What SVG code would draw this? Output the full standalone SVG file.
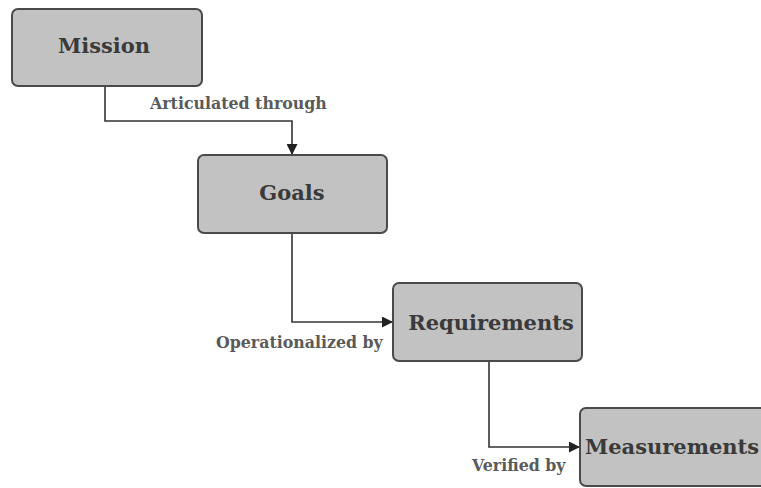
<svg xmlns="http://www.w3.org/2000/svg" width="761" height="488" viewBox="0 0 761 488">
  <defs>
    <marker id="arrow" viewBox="0 0 10 10" refX="10" refY="5" markerWidth="11" markerHeight="11" markerUnits="userSpaceOnUse" orient="auto">
      <path d="M0,0 L10,5 L0,10 Z" fill="#222"/>
    </marker>
    <style>
      .box { fill: #c2c2c2; stroke: #4a4a4a; stroke-width: 2; }
      .title { font-family: "DejaVu Serif", "Liberation Serif", serif; font-size: 21px; font-weight: bold; fill: #3a3a3a; text-anchor: middle; }
      .label { font-family: "DejaVu Serif", "Liberation Serif", serif; font-size: 15.8px; font-weight: bold; fill: #5a5a5a; }
      .link { fill: none; stroke: #333; stroke-width: 1.6; }
    </style>
  </defs>
  <rect width="761" height="488" fill="#fff"/>

  <g id="connectors">
    <path class="link" d="M105,86 V121 H292 V155" marker-end="url(#arrow)"/>
    <path class="link" d="M292,233 V322 H393" marker-end="url(#arrow)"/>
    <path class="link" d="M489,361 V447 H580" marker-end="url(#arrow)"/>
    <text class="label" x="150" y="109">Articulated through</text>
    <text class="label" x="216" y="348">Operationalized by</text>
    <text class="label" x="472" y="471">Verified by</text>
  </g>

  <g id="mission">
    <rect class="box" x="12" y="9" width="190" height="77" rx="6"/>
    <text class="title" x="104" y="53">Mission</text>
  </g>
  <g id="goals">
    <rect class="box" x="198" y="155" width="189" height="78" rx="6"/>
    <text class="title" x="292" y="200">Goals</text>
  </g>
  <g id="requirements">
    <rect class="box" x="393" y="283" width="189" height="78" rx="6"/>
    <text class="title" x="491" y="330">Requirements</text>
  </g>
  <g id="measurements">
    <rect class="box" x="580" y="408" width="190" height="78" rx="6"/>
    <text class="title" x="672" y="454">Measurements</text>
  </g>
</svg>
